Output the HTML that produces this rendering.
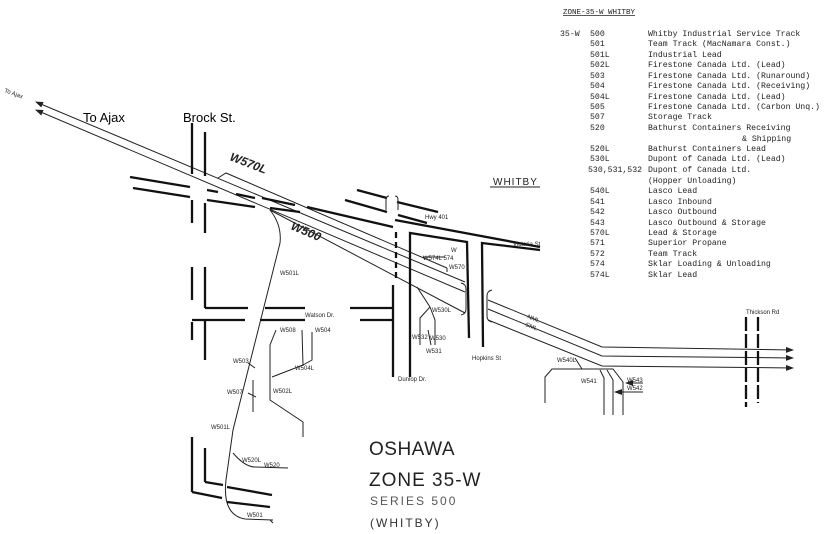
<!DOCTYPE html>
<html><head><meta charset="utf-8"><style>
html,body{margin:0;padding:0;background:#fff;}
svg{display:block;}
.m{font-family:"Liberation Mono",monospace;font-size:8.2px;fill:#222;}
.s{font-family:"Liberation Sans",sans-serif;font-size:6px;fill:#222;}
.c{font-family:"Liberation Sans",sans-serif;font-size:13px;fill:#000;}
</style></head><body>
<svg width="824" height="534" viewBox="0 0 824 534" xmlns="http://www.w3.org/2000/svg">
<defs><marker id="a" markerWidth="8" markerHeight="6" refX="7" refY="3" orient="auto"><path d="M0,0 L8,3 L0,6 z" fill="#222"/></marker></defs>
<g stroke="#222" stroke-width="1" fill="none">
<line x1="465" y1="282" x2="36" y2="102" marker-end="url(#a)"/>
<line x1="465" y1="292" x2="36" y2="110" marker-end="url(#a)"/>
<polyline points="218,178 226,173 447,268"/>
<polyline points="270,210 465,313"/>
<line x1="447" y1="268" x2="447" y2="272"/>
<path d="M461,283 q5,1 5,6 v20 q0,5 -5,6"/>
<path d="M492,290 q-5,1 -5,6 v20 q0,5 5,6"/>
<polyline points="488,300 602,347 793,350" marker-end="url(#a)"/>
<polyline points="488,309 602,356 793,358" marker-end="url(#a)"/>
<polyline points="488,320 602,366 793,368" marker-end="url(#a)"/>
<path d="M270,210 Q282,225 280,243 L233,430 L226,480 Q222,515 245,519 L273,520"/>
<line x1="270" y1="520" x2="273" y2="523"/>
<path d="M233,453 Q245,467 255,467 L288,468"/>
<line x1="253" y1="380" x2="253" y2="412"/>
<polyline points="276,330 270,345 270,400 276,404 303,422 303,437"/>
<polyline points="272,377 303,365 302,330"/>
<polyline points="303,365 312,360 312,332"/>
<line x1="248" y1="363" x2="255" y2="368"/>
<line x1="248" y1="393" x2="256" y2="397"/>
<polyline points="417,287 430,307 420,318 420,345"/>
<polyline points="430,307 435,320 435,345"/>
<line x1="428" y1="330" x2="431" y2="345"/>
<line x1="575" y1="358" x2="582" y2="369"/>
<polyline points="545,403 545,377 552,369 613,369 623,382 623,415"/>
<polyline points="600,370 604,378 604,415"/>
<polyline points="607,370 613,380 613,415"/>
<line x1="643" y1="383" x2="626" y2="383" marker-end="url(#a)"/>
<line x1="643" y1="392" x2="615" y2="392" marker-end="url(#a)"/>
<line x1="423" y1="257" x2="445" y2="257"/>
</g>
<g stroke="#111" stroke-width="2.3" fill="none">
<line x1="192" y1="123" x2="192" y2="174"/><line x1="192" y1="200" x2="192" y2="223"/>
<line x1="205" y1="132" x2="205" y2="176"/><line x1="205" y1="203" x2="205" y2="233"/>
<line x1="130" y1="177" x2="190" y2="187"/><line x1="133" y1="188" x2="190" y2="197"/>
<line x1="207" y1="190" x2="218" y2="192"/><line x1="236" y1="194" x2="255" y2="198"/>
<line x1="207" y1="200" x2="255" y2="207"/><line x1="262" y1="198" x2="295" y2="205"/>
<line x1="270" y1="208" x2="300" y2="212"/><line x1="307" y1="207" x2="393" y2="227"/>
<line x1="357" y1="190" x2="387" y2="198"/><line x1="345" y1="200" x2="387" y2="212"/>
<line x1="397" y1="202" x2="438" y2="212"/><line x1="398" y1="215" x2="427" y2="223"/>
<line x1="395" y1="220" x2="540" y2="247"/>
<polyline points="410,377 410,233 467,242 469,338"/>
<polyline points="483,347 482,243 540,250"/>
<line x1="393" y1="285" x2="393" y2="377"/>
<line x1="396" y1="232" x2="396" y2="282" stroke-dasharray="6,4"/>
<line x1="192" y1="267" x2="192" y2="300"/><line x1="192" y1="322" x2="192" y2="340"/>
<line x1="205" y1="267" x2="205" y2="308"/><line x1="205" y1="320" x2="205" y2="360"/>
<line x1="205" y1="308" x2="248" y2="308"/><line x1="265" y1="308" x2="305" y2="308"/><line x1="350" y1="308" x2="393" y2="308"/>
<line x1="192" y1="320" x2="245" y2="320"/><line x1="260" y1="320" x2="305" y2="320"/><line x1="360" y1="320" x2="393" y2="320"/>
<line x1="192" y1="437" x2="192" y2="492"/><line x1="205" y1="448" x2="205" y2="482"/>
<line x1="192" y1="492" x2="222" y2="498"/><line x1="227" y1="502" x2="270" y2="507"/>
<line x1="205" y1="482" x2="223" y2="485"/><line x1="227" y1="487" x2="272" y2="495"/>
<line x1="746" y1="317" x2="746" y2="407" stroke-dasharray="14,3"/>
<line x1="758" y1="317" x2="758" y2="403" stroke-dasharray="14,3"/>
</g>
<g stroke="#222" stroke-width="1" fill="none"><path d="M389,196 q-3,0 -3,4 v10"/><path d="M395,196 q3,0 3,4 v10"/><line x1="490" y1="187" x2="540" y2="187"/></g>
<text x="4" y="92" class="s" transform="rotate(20 4 92)">To Ajax</text>
<text x="83" y="122" class="c">To Ajax</text>
<text x="183" y="122" class="c">Brock St.</text>
<text x="229" y="160" transform="rotate(21 229 160)" style="font:bold italic 12px 'Liberation Sans',sans-serif;fill:#222">W570L</text>
<text x="290" y="229" transform="rotate(23 290 229)" style="font:bold italic 12px 'Liberation Sans',sans-serif;fill:#222">W500</text>
<text x="493" y="185" style="font:10px 'Liberation Sans',sans-serif;letter-spacing:1px;fill:#222">WHITBY</text>
<text x="305" y="317" class="s">Watson Dr.</text>
<text x="425" y="219" class="s">Hwy 401</text>
<text x="513" y="246" class="s">Victoria St</text>
<text x="472" y="360" class="s">Hopkins St</text>
<text x="398" y="381" class="s">Dunlop Dr.</text>
<text x="746" y="314" class="s">Thickson Rd</text>
<text x="527" y="318" class="s" transform="rotate(22 527 318)">NML</text>
<text x="525" y="326" class="s" transform="rotate(22 525 326)">SML</text>
<text x="280" y="275" class="s">W501L</text><text x="280" y="332" class="s">W508</text><text x="315" y="332" class="s">W504</text>
<text x="295" y="370" class="s">W504L</text><text x="233" y="363" class="s">W503</text><text x="227" y="394" class="s">W507</text>
<text x="273" y="393" class="s">W502L</text><text x="211" y="429" class="s">W501L</text><text x="242" y="462" class="s">W520L</text>
<text x="264" y="467" class="s">W520</text><text x="247" y="517" class="s">W501</text>
<text x="451" y="252" class="s">W</text><text x="423" y="260" class="s">W574L 574</text><text x="449" y="269" class="s">W570</text>
<text x="432" y="312" class="s">W530L</text><text x="412" y="339" class="s">W532</text><text x="430" y="340" class="s">W530</text><text x="426" y="353" class="s">W531</text>
<text x="557" y="362" class="s">W540L</text><text x="581" y="383" class="s">W541</text><text x="627" y="382" class="s">W543</text><text x="627" y="390" class="s">W542</text>
<text x="369" y="455" style="font:19px 'Liberation Sans',sans-serif;fill:#222;letter-spacing:0.5px">OSHAWA</text>
<text x="369" y="486" style="font:19px 'Liberation Sans',sans-serif;fill:#222;letter-spacing:1px">ZONE  35-W</text>
<text x="370" y="505" style="font:12px 'Liberation Sans',sans-serif;fill:#555;letter-spacing:2px">SERIES 500</text>
<text x="370" y="527" style="font:12px 'Liberation Sans',sans-serif;fill:#333;letter-spacing:2px">(WHITBY)</text>
<text x="563" y="14" class="m" style="font-size:7.5px;text-decoration:underline">ZONE-35-W WHITBY</text>
<g class="m">
<text x="560" y="36">35-W</text>
<text x="590" y="36">500</text><text x="648" y="36">Whitby Industrial Service Track</text>
<text x="590" y="46">501</text><text x="648" y="46">Team Track (MacNamara Const.)</text>
<text x="590" y="57">501L</text><text x="648" y="57">Industrial Lead</text>
<text x="590" y="67">502L</text><text x="648" y="67">Firestone Canada Ltd. (Lead)</text>
<text x="590" y="78">503</text><text x="648" y="78">Firestone Canada Ltd. (Runaround)</text>
<text x="590" y="88">504</text><text x="648" y="88">Firestone Canada Ltd. (Receiving)</text>
<text x="590" y="99">504L</text><text x="648" y="99">Firestone Canada Ltd. (Lead)</text>
<text x="590" y="109">505</text><text x="648" y="109">Firestone Canada Ltd. (Carbon Unq.)</text>
<text x="590" y="119">507</text><text x="648" y="119">Storage Track</text>
<text x="590" y="130">520</text><text x="648" y="130">Bathurst Containers Receiving</text>
<text x="742" y="141">&amp; Shipping</text>
<text x="590" y="151">520L</text><text x="648" y="151">Bathurst Containers Lead</text>
<text x="590" y="161">530L</text><text x="648" y="161">Dupont of Canada Ltd. (Lead)</text>
<text x="588" y="172">530,531,532</text><text x="648" y="172">Dupont of Canada Ltd.</text>
<text x="648" y="183">(Hopper Unloading)</text>
<text x="590" y="193">540L</text><text x="648" y="193">Lasco Lead</text>
<text x="590" y="204">541</text><text x="648" y="204">Lasco Inbound</text>
<text x="590" y="214">542</text><text x="648" y="214">Lasco Outbound</text>
<text x="590" y="225">543</text><text x="648" y="225">Lasco Outbound &amp; Storage</text>
<text x="590" y="235">570L</text><text x="648" y="235">Lead &amp;  Storage</text>
<text x="590" y="245">571</text><text x="648" y="245">Superior Propane</text>
<text x="590" y="256">572</text><text x="648" y="256">Team Track</text>
<text x="590" y="266">574</text><text x="648" y="266">Sklar Loading &amp; Unloading</text>
<text x="590" y="277">574L</text><text x="648" y="277">Sklar Lead</text>
</g>
</svg>
</body></html>
